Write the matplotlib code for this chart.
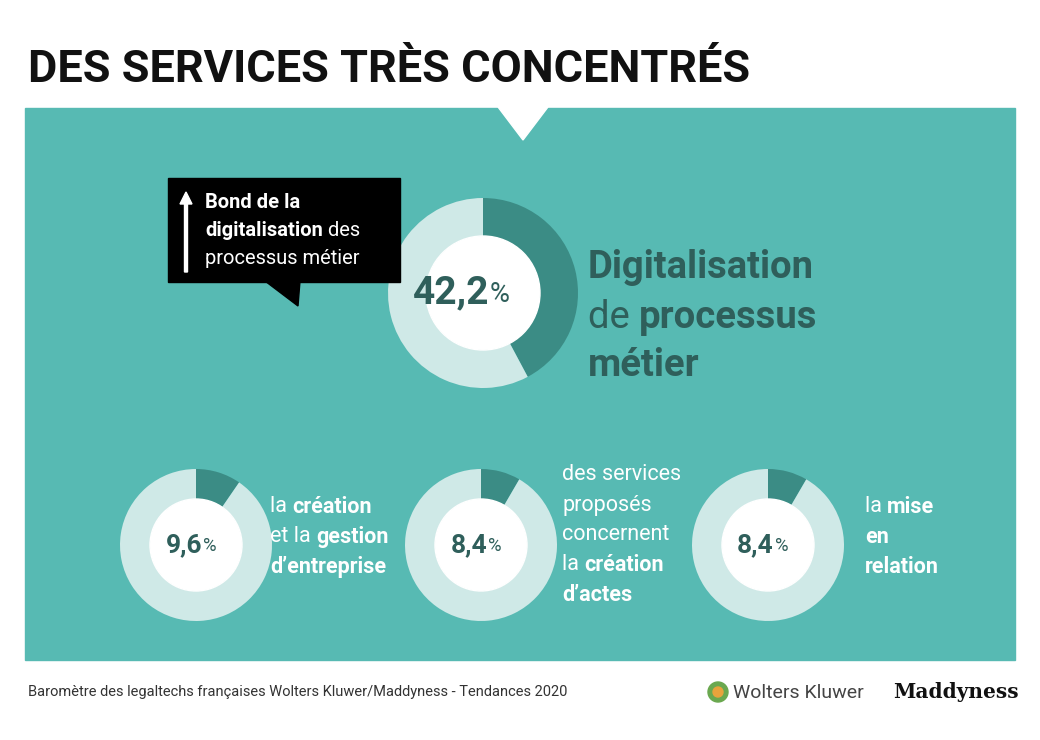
import matplotlib
matplotlib.use("Agg")
import matplotlib.pyplot as plt
from matplotlib.patches import Rectangle, Polygon, Circle, FancyArrow

title = "DES SERVICES TRÈS CONCENTRÉS"
values = [42.2, 9.6, 8.4, 8.4]
labels = ["42,2", "9,6", "8,4", "8,4"]
source = "Baromètre des legaltechs françaises Wolters Kluwer/Maddyness - Tendances 2020"

TEAL = "#57bab3"; LIGHT = "#cfe9e7"; DARK = "#3b8c85"; TXT = "#2f5f5b"
FONT = "Roboto"

fig = plt.figure(figsize=(10.4, 7.4), dpi=100)
ax = fig.add_axes([0, 0, 1, 1])
ax.set_xlim(0, 1040); ax.set_ylim(0, 740); ax.axis("off")
Y = lambda py: 740 - py

fig.text(28/1040, 1 - 70/740, title, fontsize=32.5, fontweight="bold", family=FONT, va="center", color="#111")
ax.add_patch(Rectangle((25, Y(660)), 990, 552, color=TEAL, zorder=0))
ax.add_patch(Polygon([(498, Y(107)), (548, Y(107)), (523, Y(140))], color="white", zorder=1))

def donut(cx, cy, r, w, v, lab, big):
    ax.pie([v, 100 - v], center=(cx, Y(cy)), radius=r, startangle=90, counterclock=False,
           colors=[DARK, LIGHT], wedgeprops=dict(width=w, linewidth=0))
    ax.add_patch(Circle((cx, Y(cy)), r - w, color="white", zorder=3))
    fs = 28 if big else 19
    ax.text(cx + 6, Y(cy), lab, fontsize=fs, fontweight="bold", family=FONT,
            color=TXT, ha="right", va="center", zorder=4)
    ax.text(cx + 7, Y(cy) - (2 if big else 1), "%", fontsize=fs * 0.7, family=FONT, color=TXT,
            ha="left", va="center", zorder=4)

donut(483, 293, 95, 38, values[0], labels[0], True)
for cx, v, l in zip([196, 481, 768], values[1:], labels[1:]):
    donut(cx, 545, 76, 30, v, l, False)
ax.set_xlim(0, 1040); ax.set_ylim(0, 740); ax.set_aspect("auto")

# callout
ax.add_patch(Rectangle((168, Y(282)), 232, 104, color="black", zorder=2))
ax.add_patch(Polygon([(265, Y(281)), (300, Y(281)), (298, Y(306))], color="black", zorder=2))
ax.add_patch(FancyArrow(186, Y(272), 0, 68, width=3, head_width=12, head_length=12, color="white", zorder=3))

fig.canvas.draw()
r = fig.canvas.get_renderer()
def runs(x, py, parts, fs, color):
    for s, b in parts:
        t = ax.text(x, Y(py), s, fontsize=fs, fontweight="bold" if b else "normal", family=FONT,
                    color=color, va="center", ha="left", zorder=5)
        bb = t.get_window_extent(r)
        x += bb.width

runs(205, 203, [("Bond de la", True)], 14.5, "white")
runs(205, 231, [("digitalisation", True), (" des", False)], 14.5, "white")
runs(205, 259, [("processus métier", False)], 14.5, "white")

runs(588, 268, [("Digitalisation", True)], 27.5, TXT)
runs(588, 318, [("de ", False), ("processus", True)], 27.5, TXT)
runs(588, 366, [("métier", True)], 27.5, TXT)

FS = 15.5
runs(270, 507, [("la ", False), ("création", True)], FS, "white")
runs(270, 537, [("et la ", False), ("gestion", True)], FS, "white")
runs(270, 567, [("d’entreprise", True)], FS, "white")

for i, p in enumerate([[("des services", False)], [("proposés", False)], [("concernent", False)],
                       [("la ", False), ("création", True)], [("d’actes", True)]]):
    runs(562, 475 + 30 * i, p, FS, "white")

runs(865, 507, [("la ", False), ("mise", True)], FS, "white")
runs(865, 537, [("en", True)], FS, "white")
runs(865, 567, [("relation", True)], FS, "white")

ax.text(28, Y(692), source, fontsize=10.5, family=FONT, color="#333", va="center")
ax.add_patch(Circle((718, Y(692)), 10, color="#6aa84f", zorder=2))
ax.add_patch(Circle((718, Y(692)), 5, color="#e8a33c", zorder=3))
ax.text(733, Y(693), "Wolters Kluwer", fontsize=14, family=FONT, color="#444", va="center")
ax.text(893, Y(692), "Maddyness", fontsize=14.5, fontweight="bold", family="DejaVu Serif", color="#111", va="center")

fig.savefig("out.png", dpi=100)
